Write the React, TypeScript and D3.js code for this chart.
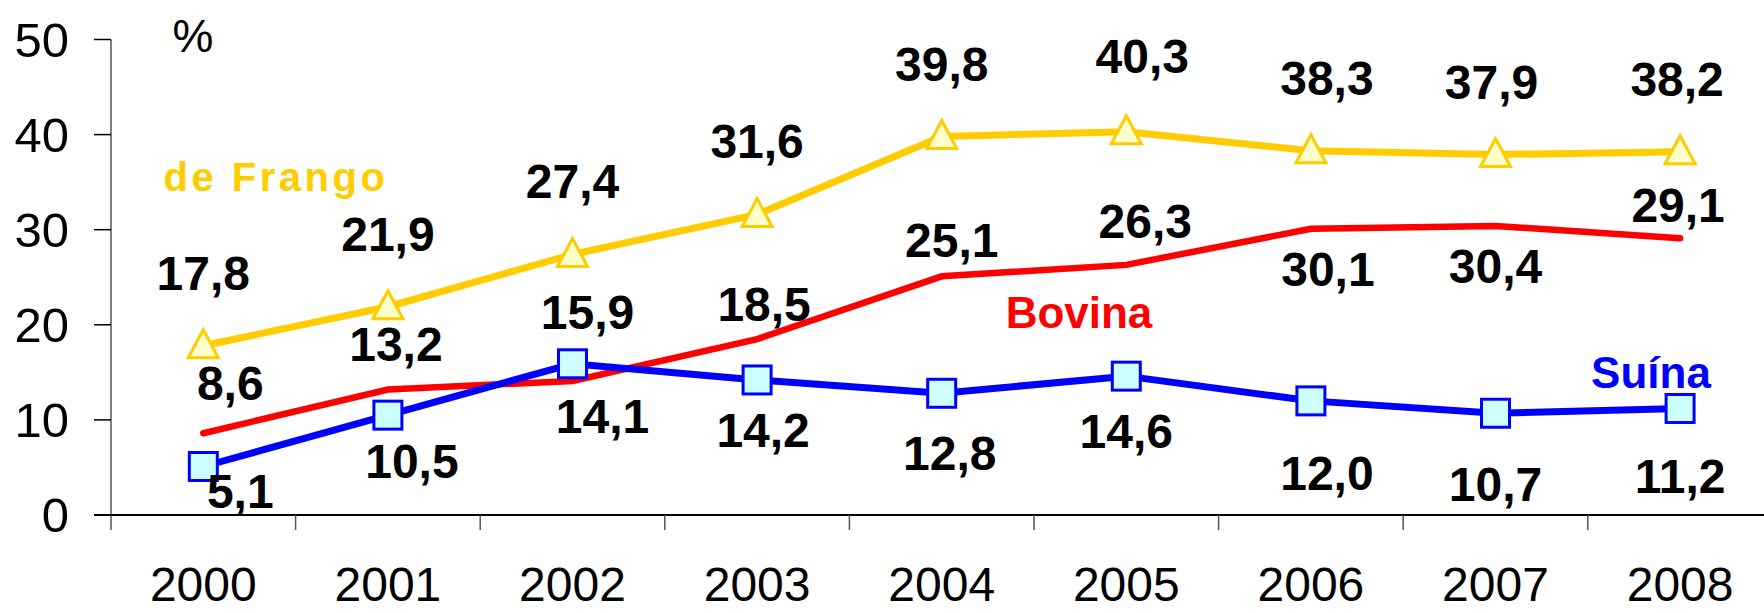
import React from "react";
import * as d3 from "d3";

// data
const years = ["2000", "2001", "2002", "2003", "2004", "2005", "2006", "2007", "2008"];
const frango = [17.8, 21.9, 27.4, 31.6, 39.8, 40.3, 38.3, 37.9, 38.2];
const bovina = [8.6, 13.2, 14.1, 18.5, 25.1, 26.3, 30.1, 30.4, 29.1];
const suina = [5.1, 10.5, 15.9, 14.2, 12.8, 14.6, 12.0, 10.7, 11.2];
const yTicks = [0, 10, 20, 30, 40, 50];

// where each value label sits relative to its point [dx, dy]
const frangoNudge = [[0, -73], [0, -73], [0, -73], [0, -73], [0, -73], [16, -76], [16, -73], [-4, -73], [-3, -73]];
const bovinaNudge = [[27, -50], [8, -45], [30, 35], [7, -35], [10, -36], [19, -44], [17, 40], [0, 40], [-2, -33]];
const suinaNudge = [[37, 25], [24, 46], [15, -52], [6, 50], [8, 60], [0, 55], [16, 72], [0, 71], [0, 68]];

const W = 1764;
const H = 613;
const font = "Arial, 'Liberation Sans', sans-serif";

const fmt = (v: number) => v.toFixed(1).replace(".", ",");

export default function App() {
  const x = d3.scaleBand().domain(years).range([111, 111 + 9 * 184.6]).padding(0);
  const y = d3.scaleLinear().domain([0, 50]).range([515, 39.5]);
  const cx = (i: number) => (x(years[i]) as number) + x.bandwidth() / 2;

  const line = d3
    .line<number>()
    .x((_, i) => cx(i))
    .y((v) => y(v));

  const labels = (vals: number[], nudge: number[][]) =>
    vals.map((v, i) => (
      <text
        key={i}
        x={cx(i) + nudge[i][0]}
        y={y(v) + nudge[i][1] + 17}
        textAnchor="middle"
        fontSize={48}
        fontWeight="bold"
        fill="#000"
      >
        {fmt(v)}
      </text>
    ));

  return (
    <svg
      width={W}
      height={H}
      style={{ position: "absolute", left: 0, top: 0, background: "#fff" }}
      fontFamily={font}
    >
      <rect width={W} height={H} fill="#fff" />

      {/* y axis */}
      <line x1={111} x2={111} y1={y(50)} y2={530} stroke="#808080" strokeWidth={2} />
      {yTicks.map((t) => (
        <g key={t}>
          <line x1={94} x2={111} y1={y(t)} y2={y(t)} stroke="#000" strokeWidth={1.5} />
          <text x={69} y={y(t) + 17} textAnchor="end" fontSize={49} fill="#000">
            {t}
          </text>
        </g>
      ))}
      <text x={193} y={52} textAnchor="middle" fontSize={46} fill="#000">
        %
      </text>

      {/* x axis */}
      <line x1={94} x2={W} y1={y(0)} y2={y(0)} stroke="#000" strokeWidth={2} />
      {years.slice(1).map((yr) => (
        <line
          key={yr}
          x1={x(yr) as number}
          x2={x(yr) as number}
          y1={y(0)}
          y2={530}
          stroke="#555"
          strokeWidth={1.5}
        />
      ))}
      {years.map((yr, i) => (
        <text key={yr} x={cx(i)} y={601} textAnchor="middle" fontSize={48} fill="#000">
          {yr}
        </text>
      ))}

      {/* lines */}
      <path d={line(bovina) ?? ""} fill="none" stroke="#FF0000" strokeWidth={6.5} strokeLinecap="round" />
      <path d={line(suina) ?? ""} fill="none" stroke="#0000FF" strokeWidth={7} />
      <path d={line(frango) ?? ""} fill="none" stroke="#FFCC00" strokeWidth={7} />

      {/* markers */}
      {suina.map((v, i) => (
        <rect
          key={i}
          x={cx(i) - 14}
          y={y(v) - 14}
          width={28}
          height={28}
          fill="#CCFFFF"
          stroke="#0000FF"
          strokeWidth={3}
        />
      ))}
      {frango.map((v, i) => {
        const px = cx(i);
        const py = y(v);
        return (
          <path
            key={i}
            d={`M${px},${py - 16}L${px + 15},${py + 12}L${px - 15},${py + 12}Z`}
            fill="#FFFFCC"
            stroke="#FFCC00"
            strokeWidth={3}
          />
        );
      })}

      {/* value labels */}
      {labels(frango, frangoNudge)}
      {labels(bovina, bovinaNudge)}
      {labels(suina, suinaNudge)}

      {/* series names */}
      <text x={276} y={191} textAnchor="middle" fontSize={40} fontWeight="bold" letterSpacing={3.5} fill="#FFCC00">
        de Frango
      </text>
      <text x={1079} y={328} textAnchor="middle" fontSize={44} fontWeight="bold" fill="#FF0000">
        Bovina
      </text>
      <text x={1651} y={388} textAnchor="middle" fontSize={44} fontWeight="bold" fill="#0000FF">
        Suína
      </text>
    </svg>
  );
}
